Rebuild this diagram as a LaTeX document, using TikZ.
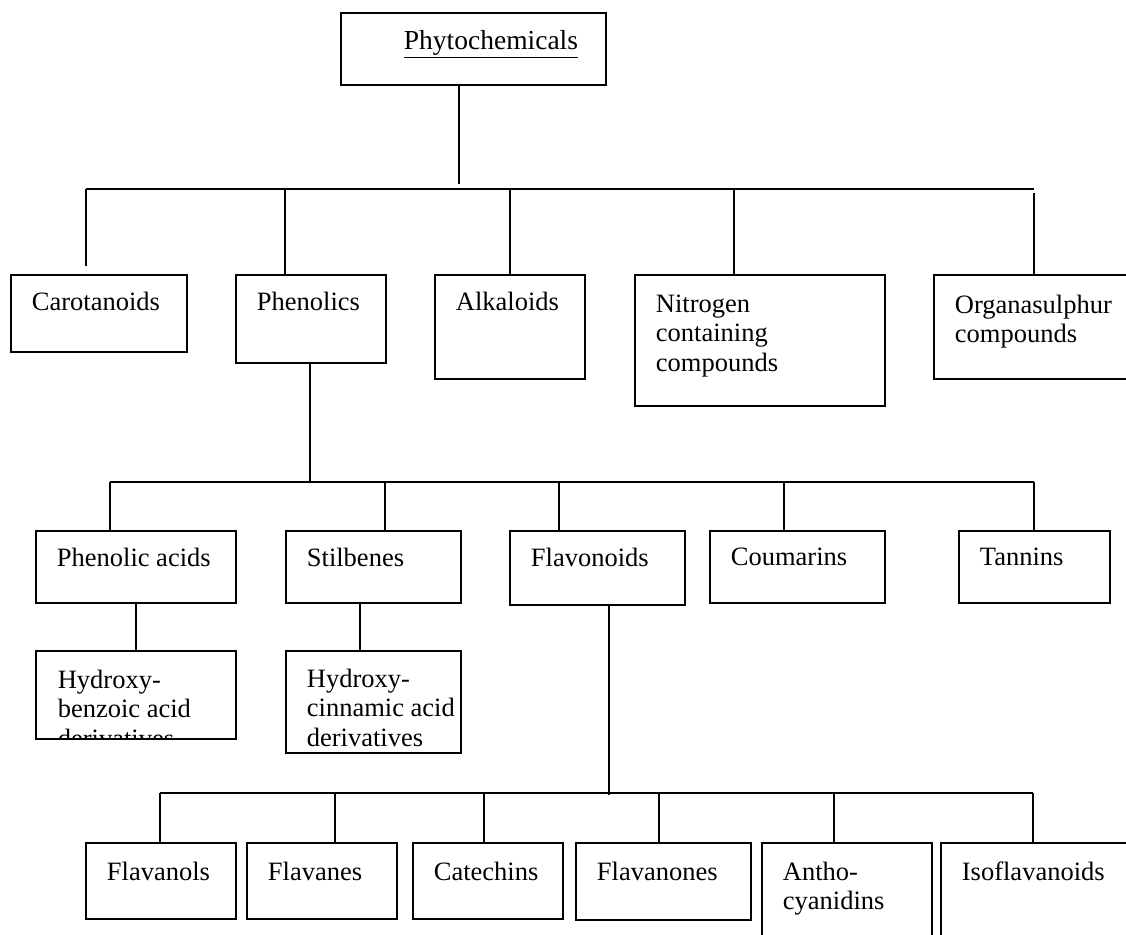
\documentclass[tikz,border=0pt]{standalone}
\usepackage{fontspec}
\setmainfont{Liberation Serif}
\usepackage{tikz}

% text of a box: width, height, top gap
\newcommand{\cell}[4][17pt]{\parbox[c][#3][t]{#2}{\raggedright\leftskip=21pt\vspace*{#1}#4}}

\begin{document}
\begin{tikzpicture}[x=1pt, y=-1pt,
    cls/.style={draw, line width=1.8pt, inner sep=0pt, anchor=north west, font=\fontsize{26.5}{29.5}\selectfont},
    link/.style={line width=1.8pt}]
    \useasboundingbox (0,0) rectangle (1126,934);

    % Root
    \node[cls, font=\fontsize{27.5}{29.5}\selectfont] (phyto) at (340,12) {\cell[18pt]{265pt}{72pt}{\hspace*{42pt}\underline{Phytochemicals}}};

    % First level
    \node[cls] (carot) at (10,274) {\cell{176pt}{77pt}{Carotanoids}};
    \node[cls] (phenol) at (235,274) {\cell{150pt}{88pt}{Phenolics}};
    \node[cls] (alkal) at (434,274) {\cell{150pt}{104pt}{Alkaloids}};
    \node[cls] (nitro) at (634,274) {\cell[20pt]{250pt}{131pt}{Nitrogen\\containing\\compounds}};
    \node[cls] (organ) at (933,274) {\cell[20pt]{210pt}{104pt}{Organasulphur\\compounds}};

    % Phenolics
    \node[cls] (phacid) at (35,530) {\cell{200pt}{72pt}{Phenolic acids}};
    \node[cls] (stilb) at (285,530) {\cell{175pt}{72pt}{Stilbenes}};
    \node[cls] (flavo) at (509,530) {\cell{175pt}{74pt}{Flavonoids}};
    \node[cls] (couma) at (709,530) {\cell{175pt}{72pt}{Coumarins}};
    \node[cls] (tannin) at (958,530) {\cell{151pt}{72pt}{Tannins}};

    \node[cls, minimum width=200pt, minimum height=88pt,
        path picture={\node[inner sep=0pt, anchor=north west, font=\fontsize{26.5}{29.5}\selectfont] (hbenz-txt)
            at (path picture bounding box.north west) {\cell[18pt]{200pt}{120pt}{Hydroxy-\\benzoic acid\\derivatives}};}]
        (hbenz) at (35,650) {};
    \node[cls] (hcinn) at (285,650) {\cell[18pt]{175pt}{102pt}{Hydroxy-\\cinnamic acid\\derivatives}};

    % Flavonoids
    \node[cls] (flanol) at (85,842) {\cell[19pt]{150pt}{76pt}{Flavanols}};
    \node[cls] (flane) at (246,842) {\cell[19pt]{150pt}{76pt}{Flavanes}};
    \node[cls] (catech) at (412,842) {\cell[19pt]{150pt}{76pt}{Catechins}};
    \node[cls] (flanon) at (575,842) {\cell[19pt]{175pt}{77pt}{Flavanones}};
    \node[cls] (antho) at (761,842) {\cell[19pt]{170pt}{110pt}{Antho-\\cyanidins}};
    \node[cls] (isofl) at (940,842) {\cell[19pt]{210pt}{110pt}{Isoflavanoids}};

    % bar points
    \coordinate (t-phyto) at (459,189);
    \coordinate (t-carot) at (86,189);
    \coordinate (t-phenol) at (285,189);
    \coordinate (t-alkal) at (510,189);
    \coordinate (t-nitro) at (734,189);
    \coordinate (t-organ) at (1034,189);

    \coordinate (m-phenol) at (310,482);
    \coordinate (m-phacid) at (110,482);
    \coordinate (m-stilb) at (385,482);
    \coordinate (m-flavo) at (559,482);
    \coordinate (m-couma) at (784,482);
    \coordinate (m-tannin) at (1034,482);
    \coordinate (s-stilb) at (360,600);

    \coordinate (l-flavo) at (609,795);
    \coordinate (l-flanol) at (160,793);
    \coordinate (l-flane) at (335,793);
    \coordinate (l-catech) at (484,793);
    \coordinate (l-flanon) at (659,793);
    \coordinate (l-antho) at (834,793);
    \coordinate (l-isofl) at (1033,793);

    % connectors
    \draw[link, shorten >=5pt] (phyto.south -| t-phyto) -- (t-phyto);
    \draw[link] (t-carot) -- (t-organ);
    \draw[link, shorten >=8pt] (t-carot) -- (t-carot |- carot.north);
    \draw[link] (t-phenol) -- (t-phenol |- phenol.north);
    \draw[link] (t-alkal) -- (t-alkal |- alkal.north);
    \draw[link] (t-nitro) -- (t-nitro |- nitro.north);
    \draw[link, shorten <=4pt] (t-organ) -- (t-organ |- organ.north);

    \draw[link] (phenol.south -| m-phenol) -- (m-phenol);
    \draw[link] (m-phacid) -- (m-tannin);
    \draw[link] (m-phacid) -- (m-phacid |- phacid.north);
    \draw[link] (m-stilb) -- (m-stilb |- stilb.north);
    \draw[link] (m-flavo) -- (m-flavo |- flavo.north);
    \draw[link] (m-couma) -- (m-couma |- couma.north);
    \draw[link] (m-tannin) -- (m-tannin |- tannin.north);

    \draw[link] (phacid) -- (hbenz);
    \draw[link] (stilb.south -| s-stilb) -- (hcinn.north -| s-stilb);

    \draw[link] (flavo.south -| l-flavo) -- (l-flavo);
    \draw[link] (l-flanol) -- (l-isofl);
    \draw[link] (l-flanol) -- (l-flanol |- flanol.north);
    \draw[link] (l-flane) -- (l-flane |- flane.north);
    \draw[link] (l-catech) -- (l-catech |- catech.north);
    \draw[link] (l-flanon) -- (l-flanon |- flanon.north);
    \draw[link] (l-antho) -- (l-antho |- antho.north);
    \draw[link] (l-isofl) -- (l-isofl |- isofl.north);
\end{tikzpicture}
\end{document}
